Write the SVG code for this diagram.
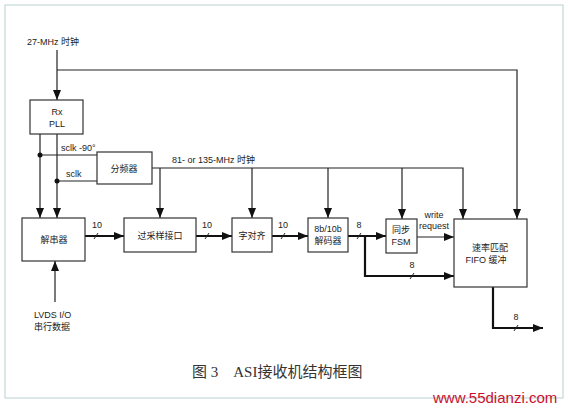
<svg xmlns="http://www.w3.org/2000/svg" width="568" height="408" viewBox="0 0 568 408">
<style>
.box{fill:#fff;stroke:#333;stroke-width:1.2}
.ln{fill:none;stroke:#222;stroke-width:1.2}
.thk{fill:none;stroke:#111;stroke-width:2.2}
.sl{stroke:#222;stroke-width:1}
.t{font-family:"Liberation Sans","Noto Sans CJK SC",sans-serif;font-size:9px;fill:#222}
.c{text-anchor:middle}
</style>
<defs>
<marker id="ah" markerUnits="userSpaceOnUse" markerWidth="10" markerHeight="8" refX="10" refY="4" orient="auto">
<path d="M0,0 L10,4 L0,8 z" fill="#111"/>
</marker>
</defs>
<rect x="0" y="0" width="568" height="408" fill="#fff"/>
<rect x="5" y="5" width="558" height="393" fill="none" stroke="#b9cfd0" stroke-width="1"/>

<g id="connectors">
<path class="ln" d="M57,50 V100" marker-end="url(#ah)"/>
<path class="ln" d="M57,70 H517 V219" marker-end="url(#ah)"/>
<path class="ln" d="M40,134 V218" marker-end="url(#ah)"/>
<path class="ln" d="M57,134 V218" marker-end="url(#ah)"/>
<path class="ln" d="M40,155 H97"/>
<path class="ln" d="M57,181 H97"/>
<circle cx="40" cy="155" r="2.5" fill="#111"/>
<circle cx="57" cy="181" r="2.5" fill="#111"/>
<path class="ln" d="M152,168 H463 V219" marker-end="url(#ah)"/>
<path class="ln" d="M160,168 V218" marker-end="url(#ah)"/>
<path class="ln" d="M252,168 V218" marker-end="url(#ah)"/>
<path class="ln" d="M328,168 V218" marker-end="url(#ah)"/>
<path class="ln" d="M402,168 V219" marker-end="url(#ah)"/>
<path class="ln" d="M55,302 V261" marker-end="url(#ah)"/>
<path class="thk" d="M85,236 H124" marker-end="url(#ah)"/>
<path class="thk" d="M196,236 H232" marker-end="url(#ah)"/>
<path class="thk" d="M272,236 H308" marker-end="url(#ah)"/>
<path class="thk" d="M348,236 H386" marker-end="url(#ah)"/>
<path class="thk" d="M365,236 V276 H454" marker-end="url(#ah)"/>
<path class="ln" d="M417,237 H454" marker-end="url(#ah)"/>
<path class="thk" d="M493,287 V328 H543" marker-end="url(#ah)"/>
<line class="sl" x1="94" y1="239" x2="98" y2="233"/>
<line class="sl" x1="205" y1="239" x2="209" y2="233"/>
<line class="sl" x1="281" y1="239" x2="285" y2="233"/>
<line class="sl" x1="357" y1="239" x2="361" y2="233"/>
<line class="sl" x1="410" y1="279" x2="414" y2="273"/>
<line class="sl" x1="514" y1="331" x2="518" y2="325"/>
<text class="t" x="27" y="45">27-MHz 时钟</text>
<text class="t" x="61" y="151">sclk -90°</text>
<text class="t" x="66" y="177">sclk</text>
<text class="t" x="172" y="163">81- or 135-MHz 时钟</text>
<text class="t c" x="97" y="228">10</text>
<text class="t c" x="207" y="228">10</text>
<text class="t c" x="283" y="228">10</text>
<text class="t c" x="359" y="228">8</text>
<text class="t c" x="412" y="268">8</text>
<text class="t c" x="516" y="320">8</text>
<text class="t c" x="434" y="218">write</text>
<text class="t c" x="434" y="229">request</text>
<text class="t" x="34" y="318">LVDS I/O</text>
<text class="t" x="34" y="330">串行数据</text>
</g>

<g id="rxpll">
<rect class="box" x="30" y="100" width="53" height="34"/>
<text class="t c" x="57" y="115">Rx</text>
<text class="t c" x="57" y="127">PLL</text>
</g>
<g id="divider">
<rect class="box" x="97" y="152" width="55" height="32"/>
<text class="t c" x="124" y="172">分频器</text>
</g>
<g id="deserializer">
<rect class="box" x="22" y="218" width="63" height="43"/>
<text class="t c" x="54" y="243">解串器</text>
</g>
<g id="oversample">
<rect class="box" x="124" y="218" width="72" height="34"/>
<text class="t c" x="160" y="239">过采样接口</text>
</g>
<g id="wordalign">
<rect class="box" x="232" y="218" width="40" height="34"/>
<text class="t c" x="252" y="239">字对齐</text>
</g>
<g id="decoder">
<rect class="box" x="308" y="218" width="40" height="34"/>
<text class="t c" x="328" y="232">8b/10b</text>
<text class="t c" x="328" y="244">解码器</text>
</g>
<g id="fsm">
<rect class="box" x="386" y="219" width="31" height="34"/>
<text class="t c" x="401" y="233">同步</text>
<text class="t c" x="401" y="245">FSM</text>
</g>
<g id="fifo">
<rect class="box" x="454" y="219" width="73" height="68"/>
<text class="t c" x="490" y="251">速率匹配</text>
<text class="t c" x="486" y="263">FIFO 缓冲</text>
</g>

<text x="192" y="377" style="font-family:'Liberation Serif','Noto Sans CJK SC',serif;font-size:15px;fill:#333;white-space:pre">图 3    ASI接收机结构框图</text>
<text x="433" y="403" style="font-family:'Liberation Sans',sans-serif;font-size:15px;fill:#c8102e">www.55dianzi.com</text>
</svg>
